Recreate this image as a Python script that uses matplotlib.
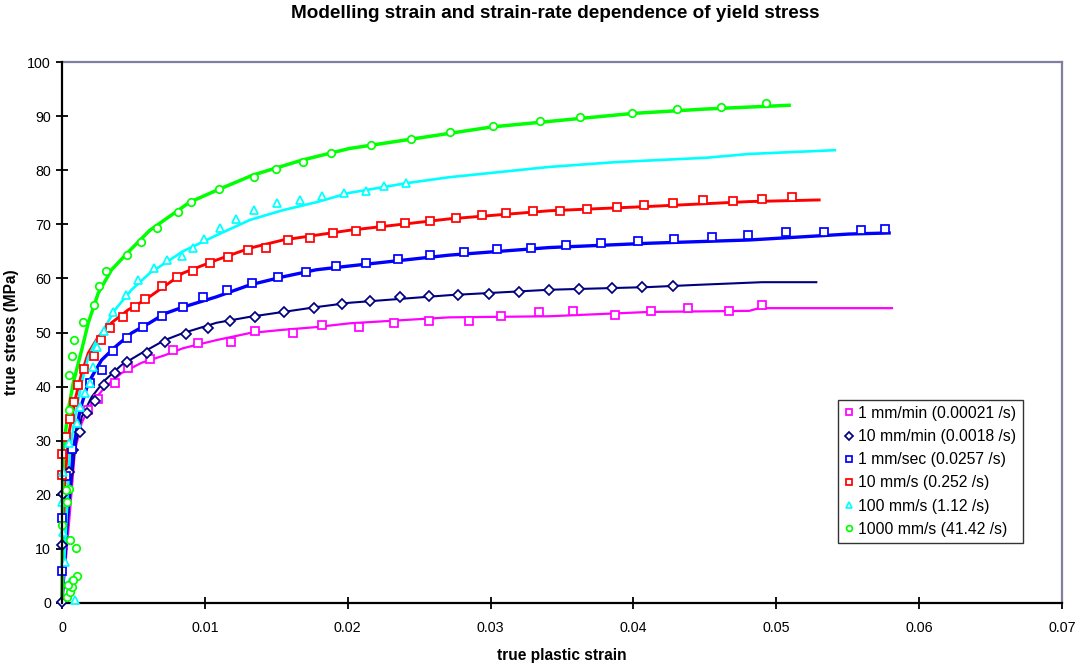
import matplotlib
matplotlib.use("Agg")
import matplotlib.pyplot as plt
from matplotlib.lines import Line2D

plt.rcParams['font.family'] = ['Liberation Sans', 'DejaVu Sans']

# ---- series labels and colours ----
labels = ["1 mm/min (0.00021 /s)", "10 mm/min (0.0018 /s)", "1 mm/sec (0.0257 /s)",
          "10 mm/s (0.252 /s)", "100 mm/s (1.12 /s)", "1000 mm/s (41.42 /s)"]
colors = ["#FF00FF", "#000080", "#0000FF", "#FF0000", "#00FFFF", "#00FF00"]
markers = ["s", "D", "s", "s", "^", "o"]

# ---- model curves (strain, stress MPa) ----
m1_x = [0, 0.0005, 0.00091, 0.00138, 0.00208, 0.00301, 0.00417, 0.00557, 0.0072, 0.00848,
        0.01082, 0.01315, 0.01548, 0.01781, 0.02014, 0.0271, 0.0341, 0.0411, 0.0481, 0.0488,
        0.0551, 0.0581]
m1_y = [0, 15, 28.3, 33.3, 37.0, 39.9, 42.5, 44.4, 45.8, 47.1,
        48.6, 49.9, 50.5, 51.0, 51.7, 52.8, 53.0, 53.8, 54.0, 54.5,
        54.5, 54.5]

m2_x = [0, 0.0005, 0.00091, 0.00138, 0.00208, 0.00301, 0.00417, 0.00557, 0.0072, 0.00848,
        0.01082, 0.01315, 0.01548, 0.01781, 0.02014, 0.0271, 0.0341, 0.0411, 0.0444, 0.049,
        0.0528]
m2_y = [0, 18, 28.8, 34.4, 38.1, 41.2, 44.0, 46.2, 48.6, 49.9,
        51.8, 52.9, 53.8, 54.7, 55.5, 56.9, 57.9, 58.4, 58.8, 59.3,
        59.3]

m3_x = [0, 0.0004, 0.00079, 0.00126, 0.00184, 0.00277, 0.00371, 0.00487, 0.00615, 0.0072,
        0.00848, 0.01082, 0.01315, 0.01548, 0.01781, 0.02014, 0.0271, 0.0341, 0.0411, 0.0481,
        0.0551, 0.0579]
m3_y = [0, 18, 28.3, 35.7, 40.7, 44.9, 47.3, 49.9, 51.8, 53.5,
        54.7, 56.6, 58.8, 60.3, 61.6, 62.3, 64.3, 65.7, 66.5, 67.1,
        68.2, 68.4]

m4_x = [0, 0.0002, 0.00044, 0.00091, 0.00138, 0.00184, 0.00254, 0.00347, 0.00464, 0.0058,
        0.0072, 0.00848, 0.01082, 0.01315, 0.01548, 0.01781, 0.02014, 0.0271, 0.0341, 0.0411,
        0.0481, 0.053]
m4_y = [0, 22, 30.7, 37.5, 42.5, 46.2, 49.2, 51.8, 54.2, 56.0,
        58.6, 61.0, 63.4, 65.6, 67.1, 68.0, 68.9, 71.0, 72.5, 73.3,
        74.2, 74.5]

m5_x = [0, 0.0003, 0.00056, 0.00091, 0.00138, 0.00184, 0.00231, 0.00301, 0.00371, 0.00487,
        0.00615, 0.0072, 0.00846, 0.01084, 0.01315, 0.01545, 0.01783, 0.0201, 0.0241, 0.0271,
        0.0341, 0.0388, 0.0451, 0.0481, 0.0541]
m5_y = [0, 15, 28.3, 34.4, 40.7, 45.5, 48.0, 51.0, 54.2, 57.9,
        61.0, 62.8, 65.0, 68.0, 70.8, 72.6, 74.1, 75.8, 77.6, 78.7,
        80.6, 81.5, 82.3, 83.0, 83.7]

m6_x = [0, 0.00005, 0.00009, 0.00044, 0.00079, 0.00138, 0.00184, 0.00254, 0.00347, 0.00476,
        0.00615, 0.00895, 0.01084, 0.01336, 0.01685, 0.0201, 0.0301, 0.0364, 0.04, 0.045,
        0.0509]
m6_y = [0, 20, 28.3, 35.7, 40.7, 46.8, 51.8, 57.3, 61.6, 65.2,
        68.9, 74.1, 76.3, 79.1, 81.9, 84.0, 88.0, 89.6, 90.5, 91.3,
        92.0]

# ---- measured points (strain, stress MPa) ----
d1_x = [0.00184, 0.00254, 0.00371, 0.00464, 0.00615, 0.00774, 0.00953, 0.01182, 0.0135, 0.01617,
        0.01823, 0.02077, 0.02322, 0.0257, 0.0285, 0.0307, 0.0334, 0.0358, 0.0387, 0.0412,
        0.0438, 0.0467, 0.049]
d1_y = [35.7, 37.8, 40.6, 43.4, 45.1, 46.8, 48.1, 48.3, 50.3, 50.0,
        51.4, 51.0, 51.7, 52.1, 52.1, 53.0, 53.7, 54.0, 53.2, 54.0,
        54.5, 54.0, 55.0]

d2_x = [0.00003, 0.00002, 0.0001, 0.0005, 0.0008, 0.00126, 0.00173, 0.00231, 0.00296, 0.00371,
        0.00452, 0.00592, 0.0072, 0.00867, 0.01023, 0.01175, 0.01354, 0.01555, 0.01762, 0.0196,
        0.02154, 0.02364, 0.0257, 0.0277, 0.0299, 0.032, 0.0341, 0.0362, 0.0385, 0.0406,
        0.0428]
d2_y = [0.2, 10.7, 20.2, 24.3, 28.2, 31.6, 35.1, 37.4, 40.3, 42.5,
        44.6, 46.2, 48.2, 49.7, 50.8, 52.2, 52.8, 53.7, 54.5, 55.3,
        55.9, 56.5, 56.7, 56.9, 57.1, 57.4, 57.9, 58.0, 58.2, 58.5,
        58.6]

d3_x = [0.00002, 0.00002, 0.0003, 0.0007, 0.00196, 0.00277, 0.00359, 0.00452, 0.00569, 0.00697,
        0.00848, 0.00988, 0.01156, 0.01333, 0.01513, 0.01711, 0.01921, 0.02126, 0.02352, 0.02578,
        0.02811, 0.03042, 0.0328, 0.03531, 0.03776, 0.04035, 0.04287, 0.04552, 0.04802, 0.0507,
        0.05336, 0.0559, 0.0576]
d3_y = [6.0, 15.8, 23.5, 28.5, 40.6, 43.1, 46.5, 48.9, 51.0, 53.0,
        54.8, 56.5, 57.9, 59.1, 60.3, 61.1, 62.2, 62.8, 63.5, 64.3,
        64.8, 65.4, 65.6, 66.1, 66.6, 66.9, 67.3, 67.7, 68.1, 68.5,
        68.5, 68.9, 69.1]

d4_x = [0.00002, 0.00003, 0.00028, 0.00056, 0.00086, 0.00114, 0.00156, 0.00224, 0.0027, 0.00336,
        0.00424, 0.0051, 0.0058, 0.00697, 0.00802, 0.00914, 0.01035, 0.01163, 0.01303, 0.01431,
        0.01583, 0.01739, 0.01897, 0.02056, 0.02231, 0.02399, 0.02578, 0.0276, 0.02942, 0.03109,
        0.03296, 0.03487, 0.03676, 0.03886, 0.04077, 0.04278, 0.04485, 0.04695, 0.04898, 0.05107]
d4_y = [23.7, 27.6, 30.7, 34.0, 37.2, 40.3, 43.2, 45.7, 48.7, 50.8,
        52.9, 54.8, 56.1, 58.6, 60.2, 61.4, 62.9, 64.0, 65.3, 65.7,
        67.1, 67.5, 68.3, 68.8, 69.6, 70.2, 70.6, 71.2, 71.7, 72.0,
        72.5, 72.5, 72.9, 73.2, 73.6, 73.9, 74.4, 74.3, 74.7, 75.1]

d5_x = [0.00091, 0.00056, 0.0002, 0.0001, 0.0, 0.0001, 0.00049, 0.00103, 0.00126, 0.00161,
        0.00196, 0.00219, 0.00243, 0.00296, 0.00359, 0.00448, 0.00534, 0.00646, 0.00732, 0.00837,
        0.00914, 0.00993, 0.01105, 0.01217, 0.01343, 0.01506, 0.01669, 0.0182, 0.01972, 0.02126,
        0.02254, 0.02406]
d5_y = [0.6, 3.9, 7.6, 13.2, 18.7, 24.3, 29.5, 33.2, 36.3, 38.8,
        40.6, 43.6, 47.4, 50.3, 53.8, 56.9, 59.7, 61.9, 63.4, 64.1,
        65.6, 67.3, 69.3, 70.9, 72.6, 73.9, 74.5, 75.3, 75.7, 76.2,
        77.0, 77.7]

d6_x = [0.00033, 0.00056, 0.00068, 0.00044, 0.00103, 0.00079, 0.00096, 0.00056, 0.00002, 0.00033,
        0.00049, 0.00028, 0.00051, 0.00049, 0.00068, 0.00086, 0.00149, 0.00226, 0.00261, 0.00306,
        0.00452, 0.00552, 0.00662, 0.00813, 0.009, 0.01098, 0.01345, 0.01501, 0.01688, 0.0188,
        0.0216, 0.02445, 0.02718, 0.03016, 0.03343, 0.03629, 0.03988, 0.04303, 0.04613, 0.04925]
d6_y = [1.2, 2.1, 3.0, 3.3, 5.0, 4.3, 10.1, 11.6, 14.4, 18.7,
        21.0, 20.9, 35.7, 42.1, 45.7, 48.7, 51.9, 55.0, 58.6, 61.3,
        64.3, 66.8, 69.3, 72.2, 74.2, 76.5, 78.8, 80.2, 81.6, 83.1,
        84.7, 85.8, 87.0, 88.1, 89.1, 89.9, 90.6, 91.3, 91.7, 92.5]

x_ticks = [0, 0.01, 0.02, 0.03, 0.04, 0.05, 0.06, 0.07]
x_tick_labels = ["0", "0.01", "0.02", "0.03", "0.04", "0.05", "0.06", "0.07"]
y_ticks = [0, 10, 20, 30, 40, 50, 60, 70, 80, 90, 100]

model_x = [m1_x, m2_x, m3_x, m4_x, m5_x, m6_x]
model_y = [m1_y, m2_y, m3_y, m4_y, m5_y, m6_y]
data_x = [d1_x, d2_x, d3_x, d4_x, d5_x, d6_x]
data_y = [d1_y, d2_y, d3_y, d4_y, d5_y, d6_y]
line_widths = [1.6, 1.5, 2.4, 2.1, 1.9, 2.5]

fig = plt.figure(figsize=(10.82, 6.64), dpi=100)
ax = fig.add_axes([62 / 1082, 61 / 664, 1000 / 1082, 541 / 664])

for i in range(6):
    ax.plot(model_x[i], model_y[i], color=colors[i], lw=line_widths[i], zorder=2,
            solid_joinstyle='round', clip_on=False)
for i in range(6):
    ms = 4.8 if markers[i] == "D" else 5.4
    ax.plot(data_x[i], data_y[i], ls='none', marker=markers[i], ms=ms,
            mfc='white', mec=colors[i], mew=1.25, zorder=3, clip_on=False)

ax.set_xlim(0, 0.07)
ax.set_ylim(0, 100)
ax.set_xticks(x_ticks)
ax.set_xticklabels(x_tick_labels)
ax.set_yticks(y_ticks)
ax.tick_params(axis='both', direction='inout', length=8, width=1.3, labelsize=10.3,
               color='black', labelcolor='black')
ax.tick_params(axis='x', pad=9)
ax.tick_params(axis='y', pad=4)

for side in ('left', 'bottom'):
    ax.spines[side].set_color('black')
    ax.spines[side].set_linewidth(1.6)
for side in ('top', 'right'):
    ax.spines[side].set_color('#7f7fa0')
    ax.spines[side].set_linewidth(1.6)
ax.spines['left'].set_zorder(4)

ax.set_xlabel("true plastic strain", fontsize=11.2, fontweight='bold', labelpad=9)
ax.set_ylabel("true stress (MPa)", fontsize=11.2, fontweight='bold', labelpad=6)
fig.text(555 / 1082, 1 - 14 / 664, "Modelling strain and strain-rate dependence of yield stress",
         ha='center', va='center', fontsize=13.6, fontweight='bold')

handles = [Line2D([], [], ls='none', marker=markers[i], ms=4.2, mfc='white',
                  mec=colors[i], mew=1.25) for i in range(6)]
leg = ax.legend(handles, labels, loc='upper left', bbox_to_anchor=(0.776, 0.376),
                fontsize=11.3, frameon=True, fancybox=False, borderpad=0.4,
                labelspacing=0.52, handlelength=0.6, handletextpad=0.3,
                borderaxespad=0)
leg.get_frame().set_edgecolor('black')
leg.get_frame().set_linewidth(1.0)

fig.savefig("out.png", dpi=100)
